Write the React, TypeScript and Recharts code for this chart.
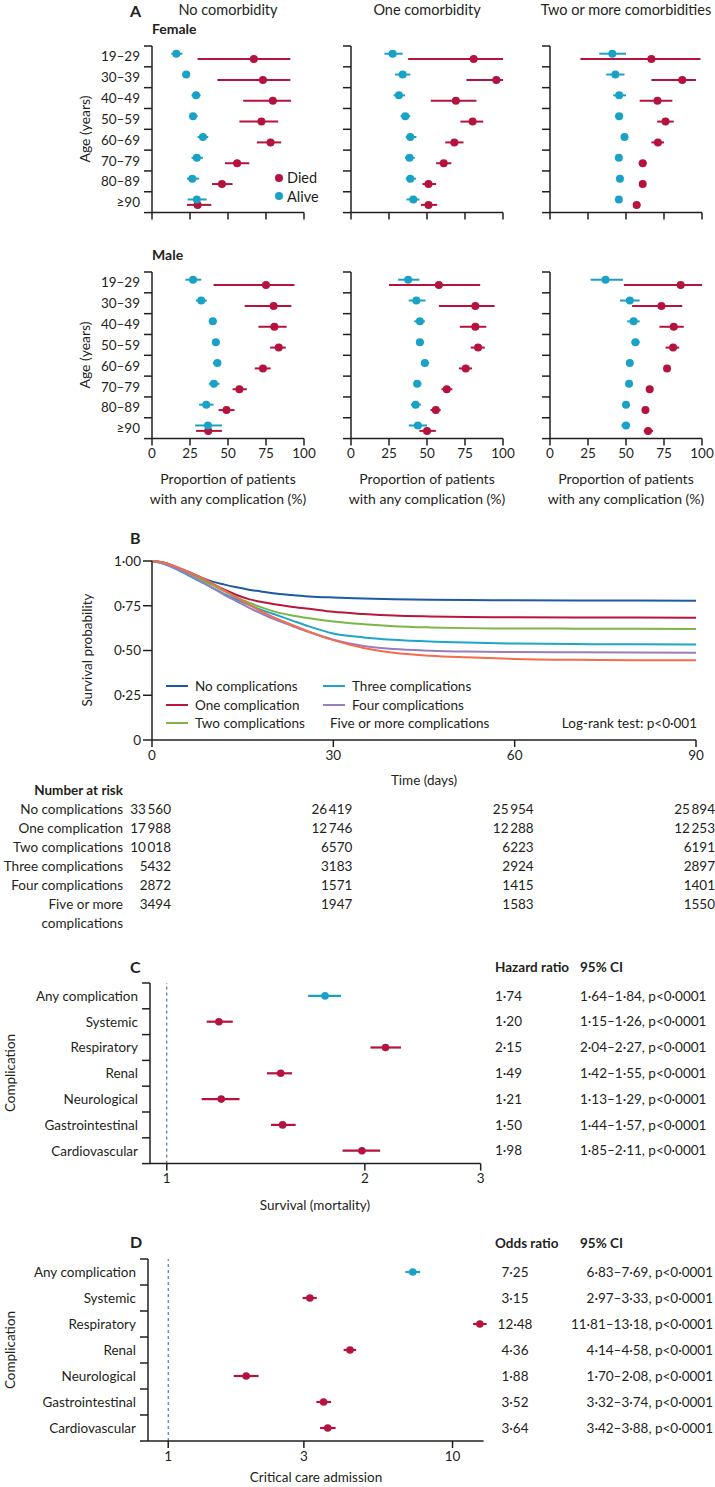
import React from "react";
import {
  ErrorBar,
  Legend,
  Line,
  LineChart,
  ReferenceLine,
  Scatter,
  ScatterChart,
  XAxis,
  YAxis,
} from "recharts";

const FONT = "Lato, 'Open Sans', sans-serif";
const INK = "#231f20";
const DIED = "#b5123e";
const ALIVE = "#1aa1c6";

// ---- Panel A: proportion with any complication, [estimate, lower, upper] per age group
const ageGroups = ["19–29", "30–39", "40–49", "50–59", "60–69", "70–79", "80–89", "≥90"];
const proportionTicks = [0, 25, 50, 75, 100];

const femaleNoneDied = [[67, 30, 91], [73, 43, 91], [79.5, 60, 91.5], [72, 57.5, 83], [78, 69, 85], [56, 48, 64], [46, 39.5, 53], [30, 23, 39]];
const femaleNoneAlive = [[16, 12.7, 20], [22.5, 20, 25], [29, 26, 32], [27, 25, 30], [33.5, 30, 37], [29.5, 26, 33.5], [26.5, 23, 31], [29.5, 23.5, 36]];
const femaleOneDied = [[80.7, 37.6, 100], [95.6, 76, 100], [69, 52.5, 82.5], [80, 72, 87], [68, 62, 74], [61, 56, 66], [51, 47, 56], [51, 46, 56.7]];
const femaleOneAlive = [[27.4, 22, 34], [34, 29, 39], [31.5, 28, 35.5], [35.7, 32.6, 39], [39, 36, 43], [38.5, 35.5, 42], [39, 36, 42.7], [41, 36.5, 45]];
const femaleTwoDied = [[66.7, 20, 99], [87, 66.7, 96], [70.7, 59, 80.5], [76, 70.5, 81.4], [71, 66.7, 75], [61, 58.4, 63.5], [61, 59, 63], [57, 54.7, 59.5]];
const femaleTwoAlive = [[41, 32.4, 50], [43, 37, 49], [45.5, 41.6, 50], [45.5, 42.7, 48], [49, 47, 51.4], [45.3, 43.8, 47], [46, 45, 48], [45.3, 43, 47]];
const maleNoneDied = [[75, 40.5, 93.7], [80, 61, 91.7], [80.5, 70, 88.6], [83.4, 77.7, 88], [73, 67.6, 78], [57.5, 53, 62.4], [49, 43.8, 54.3], [37, 29, 46]];
const maleNoneAlive = [[27, 22, 32.4], [32.4, 29, 36], [40, 37.4, 42.7], [42, 40, 44.4], [43, 40, 45.5], [40.7, 37.4, 44.4], [35.7, 31, 40.5], [36.8, 28.4, 46]];
const maleOneDied = [[57.8, 25, 85], [81.8, 57.8, 94.5], [81.8, 71.6, 89], [83.6, 78.8, 88], [75.5, 71, 79.6], [63, 59.5, 66.7], [55.8, 52.3, 59], [50, 45, 55.8]];
const maleOneAlive = [[37.6, 31, 45], [43, 38, 49], [45.3, 41.6, 48.6], [45.3, 43, 48], [48.6, 46.4, 51.4], [43.5, 41.4, 46.4], [42.5, 39.4, 46], [44, 38, 50]];
const maleTwoDied = [[86, 48.6, 100], [73.3, 54, 87], [81.4, 72, 88], [81, 76, 85], [77, 75, 79], [65.6, 64, 67.8], [62.8, 60.8, 64.8], [64.5, 61.7, 67.8]];
const maleTwoAlive = [[36.5, 26.7, 48], [52.5, 46, 59], [55, 50.8, 59], [56.2, 53.6, 59], [52.5, 50.8, 54.3], [52, 50.3, 53.8], [50, 48, 51.6], [50, 47, 52.5]];

const comorbidityTitles = ["No comorbidity", "One comorbidity", "Two or more comorbidities"];

// ---- Panel B: Kaplan-Meier curves
const survivalDays = [0, 2, 4, 6, 8, 10, 12, 14, 16, 18, 20, 23, 26, 30, 35, 40, 46, 52, 60, 70, 80, 90];
const survNone = [1, 0.99, 0.965, 0.94, 0.91, 0.885, 0.868, 0.853, 0.84, 0.83, 0.82, 0.81, 0.802, 0.796, 0.791, 0.787, 0.784, 0.782, 0.781, 0.78, 0.779, 0.778];
const survOne = [1, 0.99, 0.965, 0.935, 0.9, 0.87, 0.84, 0.81, 0.787, 0.772, 0.76, 0.745, 0.733, 0.716, 0.704, 0.695, 0.69, 0.687, 0.686, 0.685, 0.684, 0.683];
const survTwo = [1, 0.988, 0.962, 0.93, 0.898, 0.865, 0.83, 0.797, 0.768, 0.742, 0.72, 0.697, 0.68, 0.662, 0.647, 0.636, 0.629, 0.625, 0.623, 0.622, 0.621, 0.62];
const survThree = [1, 0.983, 0.955, 0.92, 0.885, 0.85, 0.815, 0.785, 0.755, 0.728, 0.705, 0.67, 0.635, 0.595, 0.573, 0.56, 0.55, 0.544, 0.539, 0.536, 0.535, 0.534];
const survFour = [1, 0.985, 0.958, 0.925, 0.888, 0.85, 0.81, 0.775, 0.74, 0.708, 0.678, 0.64, 0.603, 0.56, 0.525, 0.508, 0.499, 0.494, 0.491, 0.49, 0.489, 0.488];
const survFive = [1, 0.99, 0.968, 0.94, 0.91, 0.875, 0.835, 0.795, 0.757, 0.72, 0.688, 0.645, 0.605, 0.558, 0.514, 0.487, 0.471, 0.462, 0.453, 0.448, 0.446, 0.445];

const survivalNames = ["No complications", "One complication", "Two complications", "Three complications", "Four complications", "Five or more complications"];
const survivalColors = ["#1c5aa3", "#b8163f", "#7ab648", "#1ea5c8", "#9a7dbf", "#f26d4b"];
const survivalValues = [survNone, survOne, survTwo, survThree, survFour, survFive];
const survivalTicks = [0, 0.25, 0.5, 0.75, 1];
const dayTicks = [0, 30, 60, 90];

const riskNone = [33560, 26419, 25954, 25894];
const riskOne = [17988, 12746, 12288, 12253];
const riskTwo = [10018, 6570, 6223, 6191];
const riskThree = [5432, 3183, 2924, 2897];
const riskFour = [2872, 1571, 1415, 1401];
const riskFive = [3494, 1947, 1583, 1550];
const riskRows = [riskNone, riskOne, riskTwo, riskThree, riskFour, riskFive];

// ---- Panels C and D
const complications = ["Any complication", "Systemic", "Respiratory", "Renal", "Neurological", "Gastrointestinal", "Cardiovascular"];
const hazardRatio = [1.74, 1.2, 2.15, 1.49, 1.21, 1.5, 1.98];
const hazardLow = [1.64, 1.15, 2.04, 1.42, 1.13, 1.44, 1.85];
const hazardHigh = [1.84, 1.26, 2.27, 1.55, 1.29, 1.57, 2.11];
const oddsRatio = [7.25, 3.15, 12.48, 4.36, 1.88, 3.52, 3.64];
const oddsLow = [6.83, 2.97, 11.81, 4.14, 1.7, 3.32, 3.42];
const oddsHigh = [7.69, 3.33, 13.18, 4.58, 2.08, 3.74, 3.88];

const dot2 = (v: number) => v.toFixed(2).replace(".", "·");
const fmtCount = (n: number) => (n >= 10000 ? String(n).replace(/(\d+)(\d{3})$/, "$1\u2009$2") : String(n));

const axisStyle = { stroke: INK, strokeWidth: 1.5 };

function T({ x, y, anchor = "start", bold = false, size = 13.5, rotate = false, children }: any) {
  let transform = "translateY(-50%)";
  if (anchor === "middle") transform = "translate(-50%, -50%)";
  if (anchor === "end") transform = "translate(-100%, -50%)";
  if (rotate) transform = "translate(-50%, -50%) rotate(-90deg)";
  return (
    <div
      style={{
        position: "absolute",
        left: x,
        top: y,
        transform,
        whiteSpace: "nowrap",
        fontSize: size,
        fontWeight: bold ? 700 : 400,
        lineHeight: "18px",
        color: INK,
      }}
    >
      {children}
    </div>
  );
}

const toPoints = (rows: number[][], offset: number) =>
  rows.map(([v, lo, hi], i) => ({ x: v, y: i + offset, err: [v - lo, hi - v] }));

const dotShape = (color: string, r: number) => (p: any) => <circle cx={p.cx} cy={p.cy} r={r} fill={color} />;

function orderPayload(payload: any[], names: string[]) {
  return [...(payload || [])].sort((a, b) => names.indexOf(a.value) - names.indexOf(b.value));
}

function AgePanel({ plotLeft, plotTop, died, alive, yLabels, xLabels, legend }: any) {
  const YW = 60, MT = 6, MR = 16, XH = 30, PW = 152, PH = 166.6;
  const band = PH / 8;
  const rowTick = (p: any) => {
    if (!yLabels || p.payload.value >= 8) return <g />;
    return (
      <text x={p.x} y={p.y + band / 2} textAnchor="end" dominantBaseline="central" fontSize={13.5} fill={INK}>
        {ageGroups[p.payload.value]}
      </text>
    );
  };
  return (
    <div style={{ position: "absolute", left: plotLeft - YW, top: plotTop - MT }}>
      <ScatterChart width={YW + PW + MR} height={MT + PH + XH} margin={{ top: MT, right: MR, bottom: 0, left: 0 }}>
        <XAxis
          type="number"
          dataKey="x"
          domain={[0, 100]}
          ticks={proportionTicks}
          interval={0}
          height={XH}
          axisLine={axisStyle}
          tickLine={axisStyle}
          tickSize={7}
          tickMargin={3}
          tick={xLabels ? { fill: INK, fontSize: 13.5 } : () => <g />}
        />
        <YAxis
          type="number"
          dataKey="y"
          domain={[0, 8]}
          ticks={[0, 1, 2, 3, 4, 5, 6, 7, 8]}
          interval={0}
          reversed
          width={YW}
          axisLine={axisStyle}
          tickLine={axisStyle}
          tickSize={8}
          tickMargin={4}
          tick={rowTick}
        />
        {legend && (
          <Legend
            layout="vertical"
            align="center"
            verticalAlign="middle"
            wrapperStyle={{ left: 183, top: 129, width: "auto", height: "auto" }}
            content={({ payload }: any) => (
              <div style={{ fontSize: 14.5, color: INK }}>
                {orderPayload(payload, ["Died", "Alive"]).map((p: any) => (
                  <div key={p.value} style={{ display: "flex", alignItems: "center", height: 18.5 }}>
                    <span style={{ width: 8, height: 8, borderRadius: 4, background: p.color, marginRight: 4 }} />
                    {p.value}
                  </div>
                ))}
              </div>
            )}
          />
        )}
        <Scatter name="Died" data={toPoints(died, 0.63)} fill={DIED} shape={dotShape(DIED, 4)} isAnimationActive={false}>
          <ErrorBar dataKey="err" direction="x" width={0} stroke={DIED} strokeWidth={2} />
        </Scatter>
        <Scatter name="Alive" data={toPoints(alive, 0.37)} fill={ALIVE} shape={dotShape(ALIVE, 4)} isAnimationActive={false}>
          <ErrorBar dataKey="err" direction="x" width={0} stroke={ALIVE} strokeWidth={2} />
        </Scatter>
      </ScatterChart>
    </div>
  );
}

function ForestPanel({ plotLeft, plotRight, plotTop, plotBottom, domain, ticks, est, lo, hi }: any) {
  const YW = 150, MT = 8, MR = 12, XH = 30;
  const PW = plotRight - plotLeft;
  const PH = plotBottom - plotTop;
  const n = complications.length;
  const band = PH / n;
  const pts = est.map((v: number, i: number) => ({ x: v, y: i + 0.5, err: [v - lo[i], hi[i] - v] }));
  const rowTick = (p: any) => {
    if (p.payload.value >= n) return <g />;
    return (
      <text x={p.x} y={p.y + band / 2} textAnchor="end" dominantBaseline="central" fontSize={13.5} fill={INK}>
        {complications[p.payload.value]}
      </text>
    );
  };
  return (
    <div style={{ position: "absolute", left: plotLeft - YW, top: plotTop - MT }}>
      <ScatterChart width={YW + PW + MR} height={MT + PH + XH} margin={{ top: MT, right: MR, bottom: 0, left: 0 }}>
        <XAxis
          type="number"
          dataKey="x"
          scale="log"
          domain={domain}
          allowDataOverflow
          ticks={ticks}
          interval={0}
          height={XH}
          axisLine={axisStyle}
          tickLine={axisStyle}
          tickSize={7}
          tickMargin={3}
          tick={{ fill: INK, fontSize: 13.5 }}
        />
        <YAxis
          type="number"
          dataKey="y"
          domain={[0, n]}
          ticks={Array.from({ length: n + 1 }, (_, i) => i)}
          interval={0}
          reversed
          width={YW}
          axisLine={axisStyle}
          tickLine={axisStyle}
          tickSize={8}
          tickMargin={4}
          tick={rowTick}
        />
        <ReferenceLine x={1} stroke="#2f5f7f" strokeDasharray="3 3" strokeWidth={1} />
        <Scatter data={pts.slice(1)} fill={DIED} shape={dotShape(DIED, 3.8)} isAnimationActive={false}>
          <ErrorBar dataKey="err" direction="x" width={0} stroke={DIED} strokeWidth={2.2} />
        </Scatter>
        <Scatter data={pts.slice(0, 1)} fill={ALIVE} shape={dotShape(ALIVE, 3.8)} isAnimationActive={false}>
          <ErrorBar dataKey="err" direction="x" width={0} stroke={ALIVE} strokeWidth={2.2} />
        </Scatter>
      </ScatterChart>
    </div>
  );
}

function SurvivalPanel() {
  const YW = 60, MT = 10, MR = 16, XH = 30;
  const plotLeft = 152, plotTop = 561, PW = 544, PH = 179;
  const data = survivalDays.map((d, i) => {
    const row: any = { day: d };
    survivalValues.forEach((vals, k) => (row["s" + k] = vals[i]));
    return row;
  });
  return (
    <div style={{ position: "absolute", left: plotLeft - YW, top: plotTop - MT }}>
      <LineChart width={YW + PW + MR} height={MT + PH + XH} data={data} margin={{ top: MT, right: MR, bottom: 0, left: 0 }}>
        <XAxis
          type="number"
          dataKey="day"
          domain={[0, 90]}
          ticks={dayTicks}
          interval={0}
          height={XH}
          axisLine={axisStyle}
          tickLine={axisStyle}
          tickSize={7}
          tickMargin={3}
          tick={{ fill: INK, fontSize: 13.5 }}
        />
        <YAxis
          type="number"
          domain={[0, 1]}
          ticks={survivalTicks}
          interval={0}
          width={YW}
          axisLine={axisStyle}
          tickLine={axisStyle}
          tickSize={9}
          tickMargin={2}
          tick={{ fill: INK, fontSize: 13.5 }}
          tickFormatter={(v: number) => (v === 0 ? "0" : dot2(v))}
        />
        <Legend
          layout="vertical"
          align="center"
          verticalAlign="middle"
          wrapperStyle={{ left: 74, top: 126, width: "auto", height: "auto" }}
          content={({ payload }: any) => (
            <div
              style={{
                display: "grid",
                gridTemplateRows: "repeat(3, 18.5px)",
                gridAutoFlow: "column",
                gridAutoColumns: "157px",
                fontSize: 13.5,
                color: INK,
              }}
            >
              {orderPayload(payload, survivalNames).map((p: any) => (
                <div key={p.value} style={{ display: "flex", alignItems: "center", whiteSpace: "nowrap" }}>
                  <span style={{ width: 22, borderTop: `2px solid ${p.color}`, marginRight: 7 }} />
                  {p.value}
                </div>
              ))}
            </div>
          )}
        />
        {survivalNames.map((name, k) => (
          <Line
            key={name}
            name={name}
            dataKey={"s" + k}
            type="monotone"
            stroke={survivalColors[k]}
            strokeWidth={2}
            dot={false}
            isAnimationActive={false}
          />
        ))}
      </LineChart>
    </div>
  );
}

export default function App() {
  const colLefts = [152, 351, 550];
  const female = [
    [femaleNoneDied, femaleNoneAlive],
    [femaleOneDied, femaleOneAlive],
    [femaleTwoDied, femaleTwoAlive],
  ];
  const male = [
    [maleNoneDied, maleNoneAlive],
    [maleOneDied, maleOneAlive],
    [maleTwoDied, maleTwoAlive],
  ];
  const riskX = dayTicks.map((d) => 152 + (d / 90) * 544 + 19);
  const cTop = 982.7, cBand = (1163.3 - 982.7) / 7;
  const dTop = 1259, dBand = (1441 - 1259) / 7;

  return (
    <div
      style={{
        position: "absolute",
        left: 0,
        top: 0,
        width: 715,
        height: 1487,
        overflow: "hidden",
        background: "#fff",
        fontFamily: FONT,
        color: INK,
      }}
    >
      {/* Panel A */}
      <T x={130} y={11} bold size={16}>A</T>
      {comorbidityTitles.map((t, i) => (
        <T key={t} x={colLefts[i] + 76} y={10} anchor="middle" size={14.5}>{t}</T>
      ))}
      <T x={152} y={29} bold size={14}>Female</T>
      <T x={152} y={255} bold size={14}>Male</T>
      <T x={85} y={129} rotate size={14}>Age (years)</T>
      <T x={85} y={355} rotate size={14}>Age (years)</T>
      {colLefts.map((left, i) => (
        <React.Fragment key={left}>
          <AgePanel plotLeft={left} plotTop={45.7} died={female[i][0]} alive={female[i][1]} yLabels={i === 0} xLabels={false} legend={i === 0} />
          <AgePanel plotLeft={left} plotTop={271.7} died={male[i][0]} alive={male[i][1]} yLabels={i === 0} xLabels />
          <T x={left + 76} y={479} anchor="middle" size={14}>Proportion of patients</T>
          <T x={left + 76} y={499} anchor="middle" size={14}>with any complication (%)</T>
        </React.Fragment>
      ))}

      {/* Panel B */}
      <T x={130} y={538} bold size={16}>B</T>
      <T x={87} y={650} rotate size={13.5}>Survival probability</T>
      <SurvivalPanel />
      <T x={697} y={723} anchor="end">Log-rank test: p&lt;0·001</T>
      <T x={424} y={780} anchor="middle">Time (days)</T>
      <T x={123} y={790} anchor="end" bold>Number at risk</T>
      {survivalNames.map((name, r) => (
        <React.Fragment key={name}>
          <div
            style={{
              position: "absolute",
              right: 715 - 123,
              top: 809 + 19 * r - 9,
              width: 130,
              textAlign: "right",
              fontSize: 13.5,
              lineHeight: "18.5px",
            }}
          >
            {name}
          </div>
          {riskRows[r].map((n, c) => (
            <T key={c} x={riskX[c]} y={809 + 19 * r} anchor="end">{fmtCount(n)}</T>
          ))}
        </React.Fragment>
      ))}

      {/* Panel C */}
      <T x={130} y={967} bold size={16}>C</T>
      <T x={495} y={967} bold>Hazard ratio</T>
      <T x={580} y={967} bold>95% CI</T>
      <T x={10} y={1073} rotate>Complication</T>
      <ForestPanel plotLeft={150} plotRight={480.7} plotTop={cTop} plotBottom={1163.3} domain={[0.943, 3]} ticks={[1, 2, 3]} est={hazardRatio} lo={hazardLow} hi={hazardHigh} />
      {complications.map((c, i) => (
        <React.Fragment key={c}>
          <T x={495} y={cTop + cBand * (i + 0.5)}>{dot2(hazardRatio[i])}</T>
          <T x={580} y={cTop + cBand * (i + 0.5)}>{`${dot2(hazardLow[i])}–${dot2(hazardHigh[i])}, p<0·0001`}</T>
        </React.Fragment>
      ))}
      <T x={315} y={1205} anchor="middle">Survival (mortality)</T>

      {/* Panel D */}
      <T x={130} y={1242} bold size={16}>D</T>
      <T x={495} y={1243} bold>Odds ratio</T>
      <T x={580} y={1243} bold>95% CI</T>
      <T x={10} y={1350} rotate>Complication</T>
      <ForestPanel plotLeft={148} plotRight={483.6} plotTop={dTop} plotBottom={1441} domain={[0.849, 12.86]} ticks={[1, 3, 10]} est={oddsRatio} lo={oddsLow} hi={oddsHigh} />
      {complications.map((c, i) => (
        <React.Fragment key={c}>
          <T x={515} y={dTop + dBand * (i + 0.5)} anchor="middle">{dot2(oddsRatio[i])}</T>
          <T x={713} y={dTop + dBand * (i + 0.5)} anchor="end">{`${dot2(oddsLow[i])}–${dot2(oddsHigh[i])}, p<0·0001`}</T>
        </React.Fragment>
      ))}
      <T x={316} y={1477} anchor="middle">Critical care admission</T>
    </div>
  );
}
